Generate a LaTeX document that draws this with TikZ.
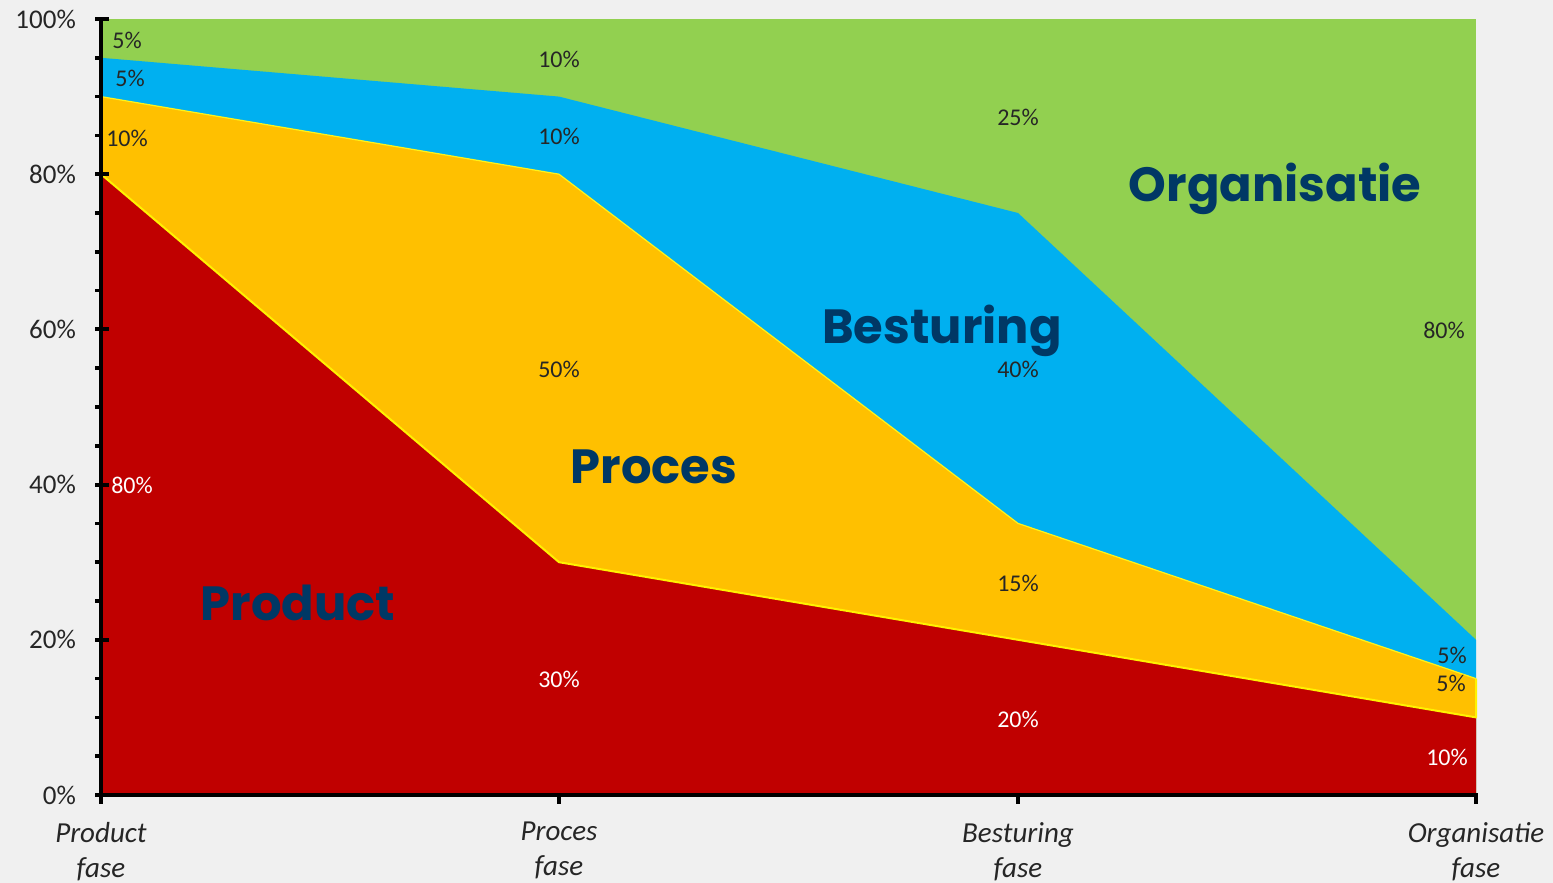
\documentclass[tikz,border=0pt]{standalone}
\usepackage{fontspec}
\setmainfont{Carlito}
\newfontfamily\bigfont{Poppins}
\definecolor{bgc}{RGB}{240,240,240}
\definecolor{cred}{RGB}{192,0,0}
\definecolor{corange}{RGB}{255,192,0}
\definecolor{cblue}{RGB}{0,176,240}
\definecolor{cgreen}{RGB}{146,208,80}
\definecolor{navy}{RGB}{0,56,101}
\definecolor{dark}{RGB}{38,38,38}
\tikzset{
  dlab/.style={font=\fontsize{24}{26}\selectfont, text=dark, inner sep=0pt},
  wlab/.style={dlab, text=white},
  axlab/.style={font=\fontsize{27}{29}\selectfont, text=dark, anchor=east, inner sep=0pt},
  catlab/.style={font=\fontsize{29}{35}\selectfont\itshape, text=dark, align=center, anchor=north, inner sep=0pt},
  biglab/.style={font=\bigfont\bfseries\fontsize{48}{52}\selectfont, text=navy, inner sep=0pt},
  axisline/.style={line width=4.5pt, black},
  tick/.style={line width=4pt, black}
}
\begin{document}
\begin{tikzpicture}[x=1pt,y=1pt]
% y(v) = 88 + 7.76 v ; px y -> 883 - y
\fill[bgc] (0,0) rectangle (1553,883);
\useasboundingbox (0,0) rectangle (1553,883);
\def\Y#1{88+7.76*#1}
% green (full)
\fill[cgreen] (101,{\Y{0}}) -- (101,{\Y{100}}) -- (1476,{\Y{100}}) -- (1476,{\Y{0}}) -- cycle;
% blue top: 95,90,75,20
\fill[cblue] (101,{\Y{0}}) -- (101,{\Y{95}}) -- (559,{\Y{90}}) -- (1018,{\Y{75}}) -- (1476,{\Y{20}}) -- (1476,{\Y{0}}) -- cycle;
% orange top: 90,80,35,15
\fill[corange] (101,{\Y{0}}) -- (101,{\Y{90}}) -- (559,{\Y{80}}) -- (1018,{\Y{35}}) -- (1476,{\Y{15}}) -- (1476,{\Y{0}}) -- cycle;
% red top: 80,30,20,10
\fill[cred] (101,{\Y{0}}) -- (101,{\Y{80}}) -- (559,{\Y{30}}) -- (1018,{\Y{20}}) -- (1476,{\Y{10}}) -- (1476,{\Y{0}}) -- cycle;
% yellow borders of the orange series
\draw[yellow!90!white, line width=1.2pt] (101,{\Y{90}}) -- (559,{\Y{80}}) -- (1018,{\Y{35}}) -- (1476,{\Y{15}});
\draw[yellow, line width=2pt, line join=round] (101,{\Y{80}}) -- (559,{\Y{30}}) -- (1018,{\Y{20}}) -- (1476,{\Y{10}}) -- (1476,{\Y{15}});
% axes
\draw[axisline] (101,{\Y{100}}) -- (101,{\Y{0}-9});
\draw[axisline] (101,{\Y{0}}) -- (1478,{\Y{0}});
\foreach \v in {0,20,...,100} \draw[tick] (95,{\Y{\v}}) -- (109,{\Y{\v}});
\foreach \v in {5,10,15,25,30,35,45,50,55,65,70,75,85,90,95} \draw[tick, line width=3.5pt] (95,{\Y{\v}}) -- (101,{\Y{\v}});
\foreach \xx in {559,1018,1476} \draw[tick] (\xx,{\Y{0}}) -- (\xx,{\Y{0}-9});
% y axis labels
\foreach \v in {0,20,40,60,80,100} \node[axlab] (ya\v) at (76,{\Y{\v}}) {\v\%};
% category labels
\node[catlab] (c1) at (101,61) {Product\\fase};
\node[catlab] (c2) at (559,61) {Proces\\fase};
\node[catlab] (c3) at (1018,61) {Besturing\\fase};
\node[catlab] (c4) at (1476,61) {Organisatie\\fase};
% data labels (px positions)
\node[dlab] (a1) at (127,883-40) {5\%};
\node[dlab] (a2) at (130,883-78) {5\%};
\node[dlab] (a3) at (127,883-138) {10\%};
\node[wlab] (a4) at (132,883-485) {80\%};
\node[dlab] (b1) at (559,883-59) {10\%};
\node[dlab] (b2) at (559,883-136) {10\%};
\node[dlab] (b3) at (559,883-369) {50\%};
\node[wlab] (b4) at (559,883-679) {30\%};
\node[dlab] (d1) at (1018,883-117) {25\%};
\node[dlab] (d2) at (1018,883-369) {40\%};
\node[dlab] (d3) at (1018,883-583) {15\%};
\node[wlab] (d4) at (1018,883-719) {20\%};
\node[dlab] (e1) at (1444,883-330) {80\%};
\node[dlab] (e2) at (1452,883-655) {5\%};
\node[dlab] (e3) at (1451,883-683) {5\%};
\node[wlab] (e4) at (1447,883-757) {10\%};
% series names
\node[biglab] (nOrg) at (1275,883-189) {Organisatie};
\node[biglab] (nBes) at (942,883-331) {Besturing};
\node[biglab] (nPro) at (654,883-467) {Proces};
\node[biglab] (nPrd) at (298,883-603) {Product};
\end{tikzpicture}
\end{document}
